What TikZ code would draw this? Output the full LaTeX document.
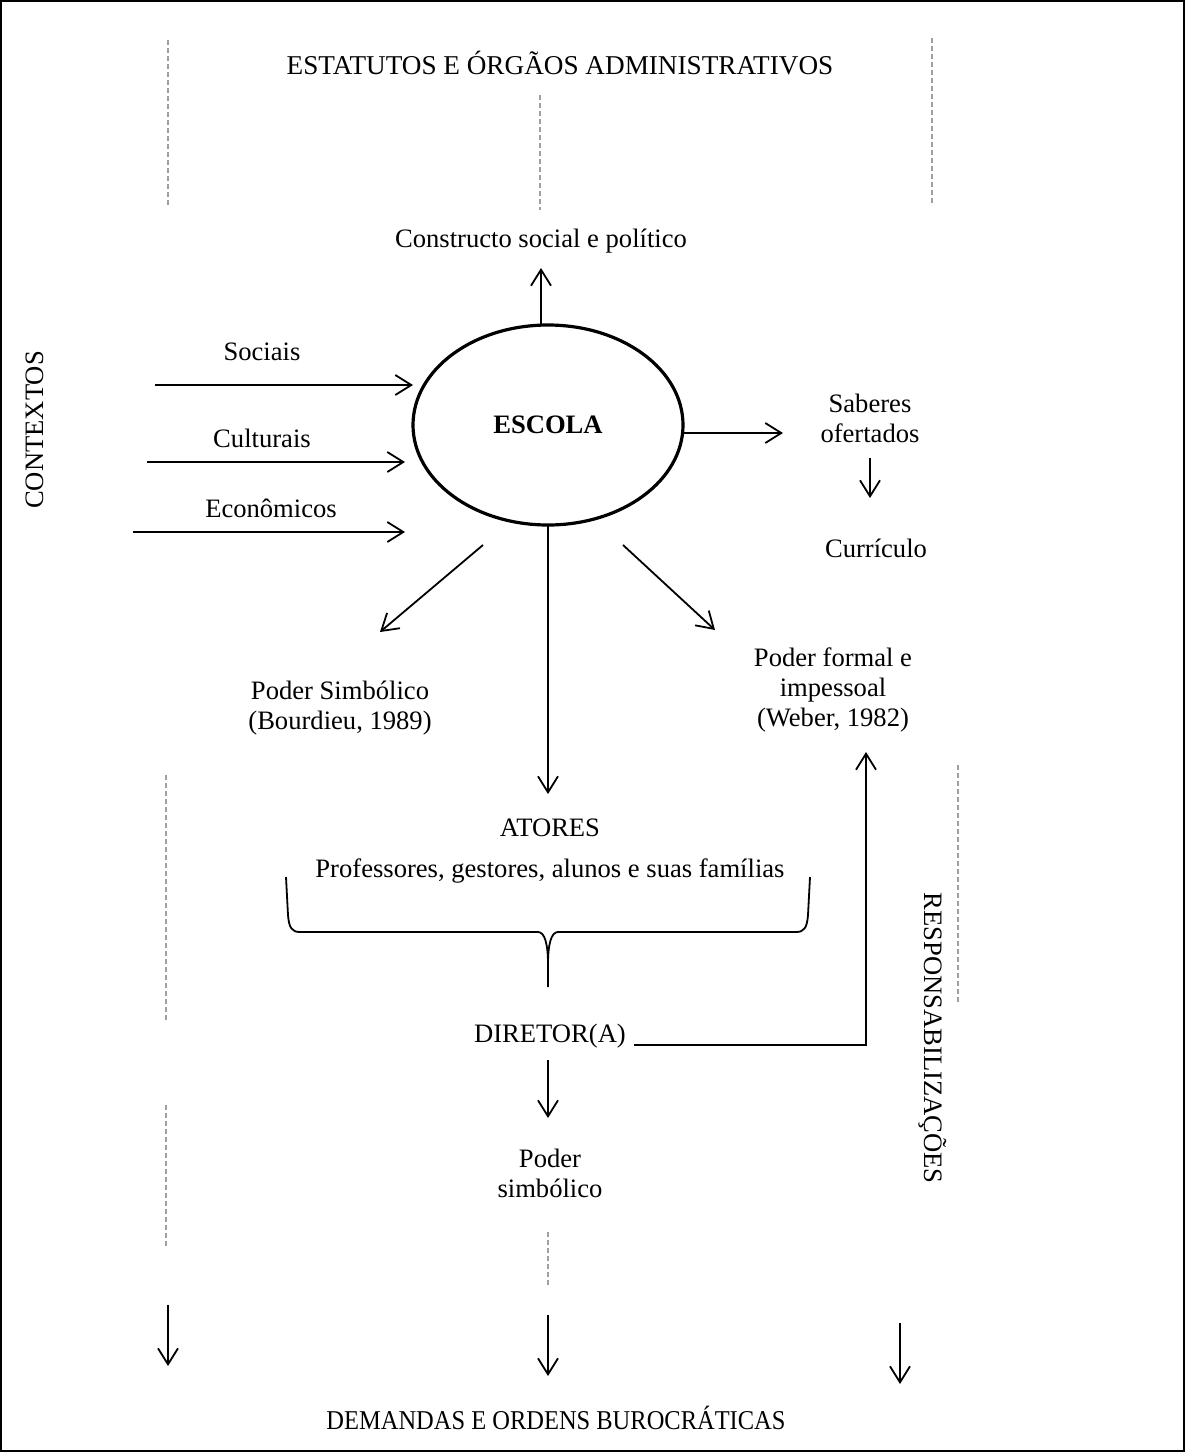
\documentclass[tikz,border=0pt]{standalone}
\usepackage{fontspec}
\usepackage{graphicx}
\setmainfont{Liberation Serif}
\usetikzlibrary{arrows.meta,shapes.geometric}
\begin{document}
\begin{tikzpicture}[x=0.5pt,y=-0.5pt,
  txt/.style={font=\fontsize{13.3pt}{15pt}\selectfont, inner sep=0pt, align=center},
  arr/.style={line width=0.9pt, -{Straight Barb[length=8pt,width=10pt,line width=0.9pt]}},
  plain/.style={line width=0.9pt},
  guide/.style={gray!75, line width=0.6pt, dash pattern=on 2.5pt off 1.5pt},
]
\useasboundingbox (0,0) rectangle (1185,1452);
\draw[line width=0.6pt] (1,1) rectangle (1184,1451);

% headings
\node[txt, font=\fontsize{13.6pt}{15pt}\selectfont] (estatutos) at (560,63) {ESTATUTOS E ÓRGÃOS ADMINISTRATIVOS};
\node[txt, font=\fontsize{13.6pt}{15pt}\selectfont] (demandas) at (556,1418)
  {\scalebox{0.9}[1]{DEMANDAS E ORDENS BUROCRÁTICAS}};
\node[txt, rotate=90] (contextos) at (35,430) {CONTEXTOS};
\node[txt, rotate=-90] (resp) at (933,1038) {RESPONSABILIZAÇÕES};

% dashed guide lines
\coordinate (g1a) at (168,40);  \coordinate (g1b) at (168,207);
\coordinate (g2a) at (540,95);  \coordinate (g2b) at (540,210);
\coordinate (g3a) at (932,38);  \coordinate (g3b) at (932,205);
\coordinate (g4a) at (166,775); \coordinate (g4b) at (166,1020);
\coordinate (g5a) at (958,765); \coordinate (g5b) at (958,1005);
\coordinate (g6a) at (166,1105);\coordinate (g6b) at (166,1248);
\coordinate (g7a) at (548,1232);\coordinate (g7b) at (548,1285);
\foreach \i in {1,...,7} \draw[guide] (g\i a) -- (g\i b);

% school
\node[ellipse, draw, line width=1.6pt, minimum width=135pt, minimum height=100pt, inner sep=0pt]
  (escola) at (548,425) {};
\node[txt, font=\fontsize{13.3pt}{15pt}\selectfont\bfseries] (escolatxt) at (548,425) {ESCOLA};

\node[txt] (constructo) at (541,241) {Constructo social e político};
\coordinate (up0) at (541,325);
\draw[arr] (up0) -- (541,268);

% contexts
\node[txt] (sociais) at (262,352) {Sociais};
\node[txt] (culturais) at (262,438) {Culturais};
\node[txt] (economicos) at (271,508) {Econômicos};
\coordinate (s0) at (155,385); \coordinate (s1) at (413,385);
\coordinate (c0) at (147,462); \coordinate (c1) at (405,462);
\coordinate (e0) at (133,532); \coordinate (e1) at (405,532);
\draw[arr] (s0) -- (s1);
\draw[arr] (c0) -- (c1);
\draw[arr] (e0) -- (e1);

% knowledge
\node[txt] (saberes) at (870,418) {Saberes\\ofertados};
\node[txt] (curriculo) at (876,548) {Currículo};
\coordinate (k0) at (683,433); \coordinate (k1) at (783,433);
\draw[arr] (k0) -- (k1);
\coordinate (sb0) at (870,458); \coordinate (sb1) at (870,498);
\draw[arr] (sb0) -- (sb1);

% powers
\node[txt] (simb) at (340,708) {Poder Simbólico\\(Bourdieu, 1989)};
\node[txt] (formal) at (833,690) {Poder formal e\\impessoal\\(Weber, 1982)};
\coordinate (d1a) at (483,545); \coordinate (d1b) at (380,632);
\coordinate (d2a) at (623,545); \coordinate (d2b) at (715,630);
\draw[arr] (d1a) -- (d1b);
\draw[arr] (d2a) -- (d2b);

% actors
\node[txt] (atores) at (550,828) {ATORES};
\node[txt] (prof) at (550,871) {Professores, gestores, alunos e suas famílias};
\coordinate (v0) at (548,525);
\draw[arr] (v0) -- (548,794);

% brace
\draw[plain] (286,877) -- (288,915) .. controls (289,928) and (292,932) .. (300,932)
  -- (538,932) .. controls (545,932) and (548,945) .. (548,964) -- (548,987);
\draw[plain] (810,877) -- (808,915) .. controls (807,928) and (804,932) .. (796,932)
  -- (558,932) .. controls (551,932) and (548,945) .. (548,964);

% director
\node[txt] (diretor) at (550,1036) {DIRETOR(A)};
\draw[arr] (diretor.east) ++(8,9) -- (866,1045) -- (866,752);
\draw[arr] (548,1060) -- (548,1118);
\node[txt] (psimb) at (550,1173) {Poder\\simbólico};

% bottom arrows
\coordinate (b1a) at (168,1305); \coordinate (b1b) at (168,1366);
\coordinate (b2a) at (548,1315); \coordinate (b2b) at (548,1376);
\coordinate (b3a) at (900,1323); \coordinate (b3b) at (900,1384);
\draw[arr] (b1a) -- (b1b);
\draw[arr] (b2a) -- (b2b);
\draw[arr] (b3a) -- (b3b);
\end{tikzpicture}
\end{document}
